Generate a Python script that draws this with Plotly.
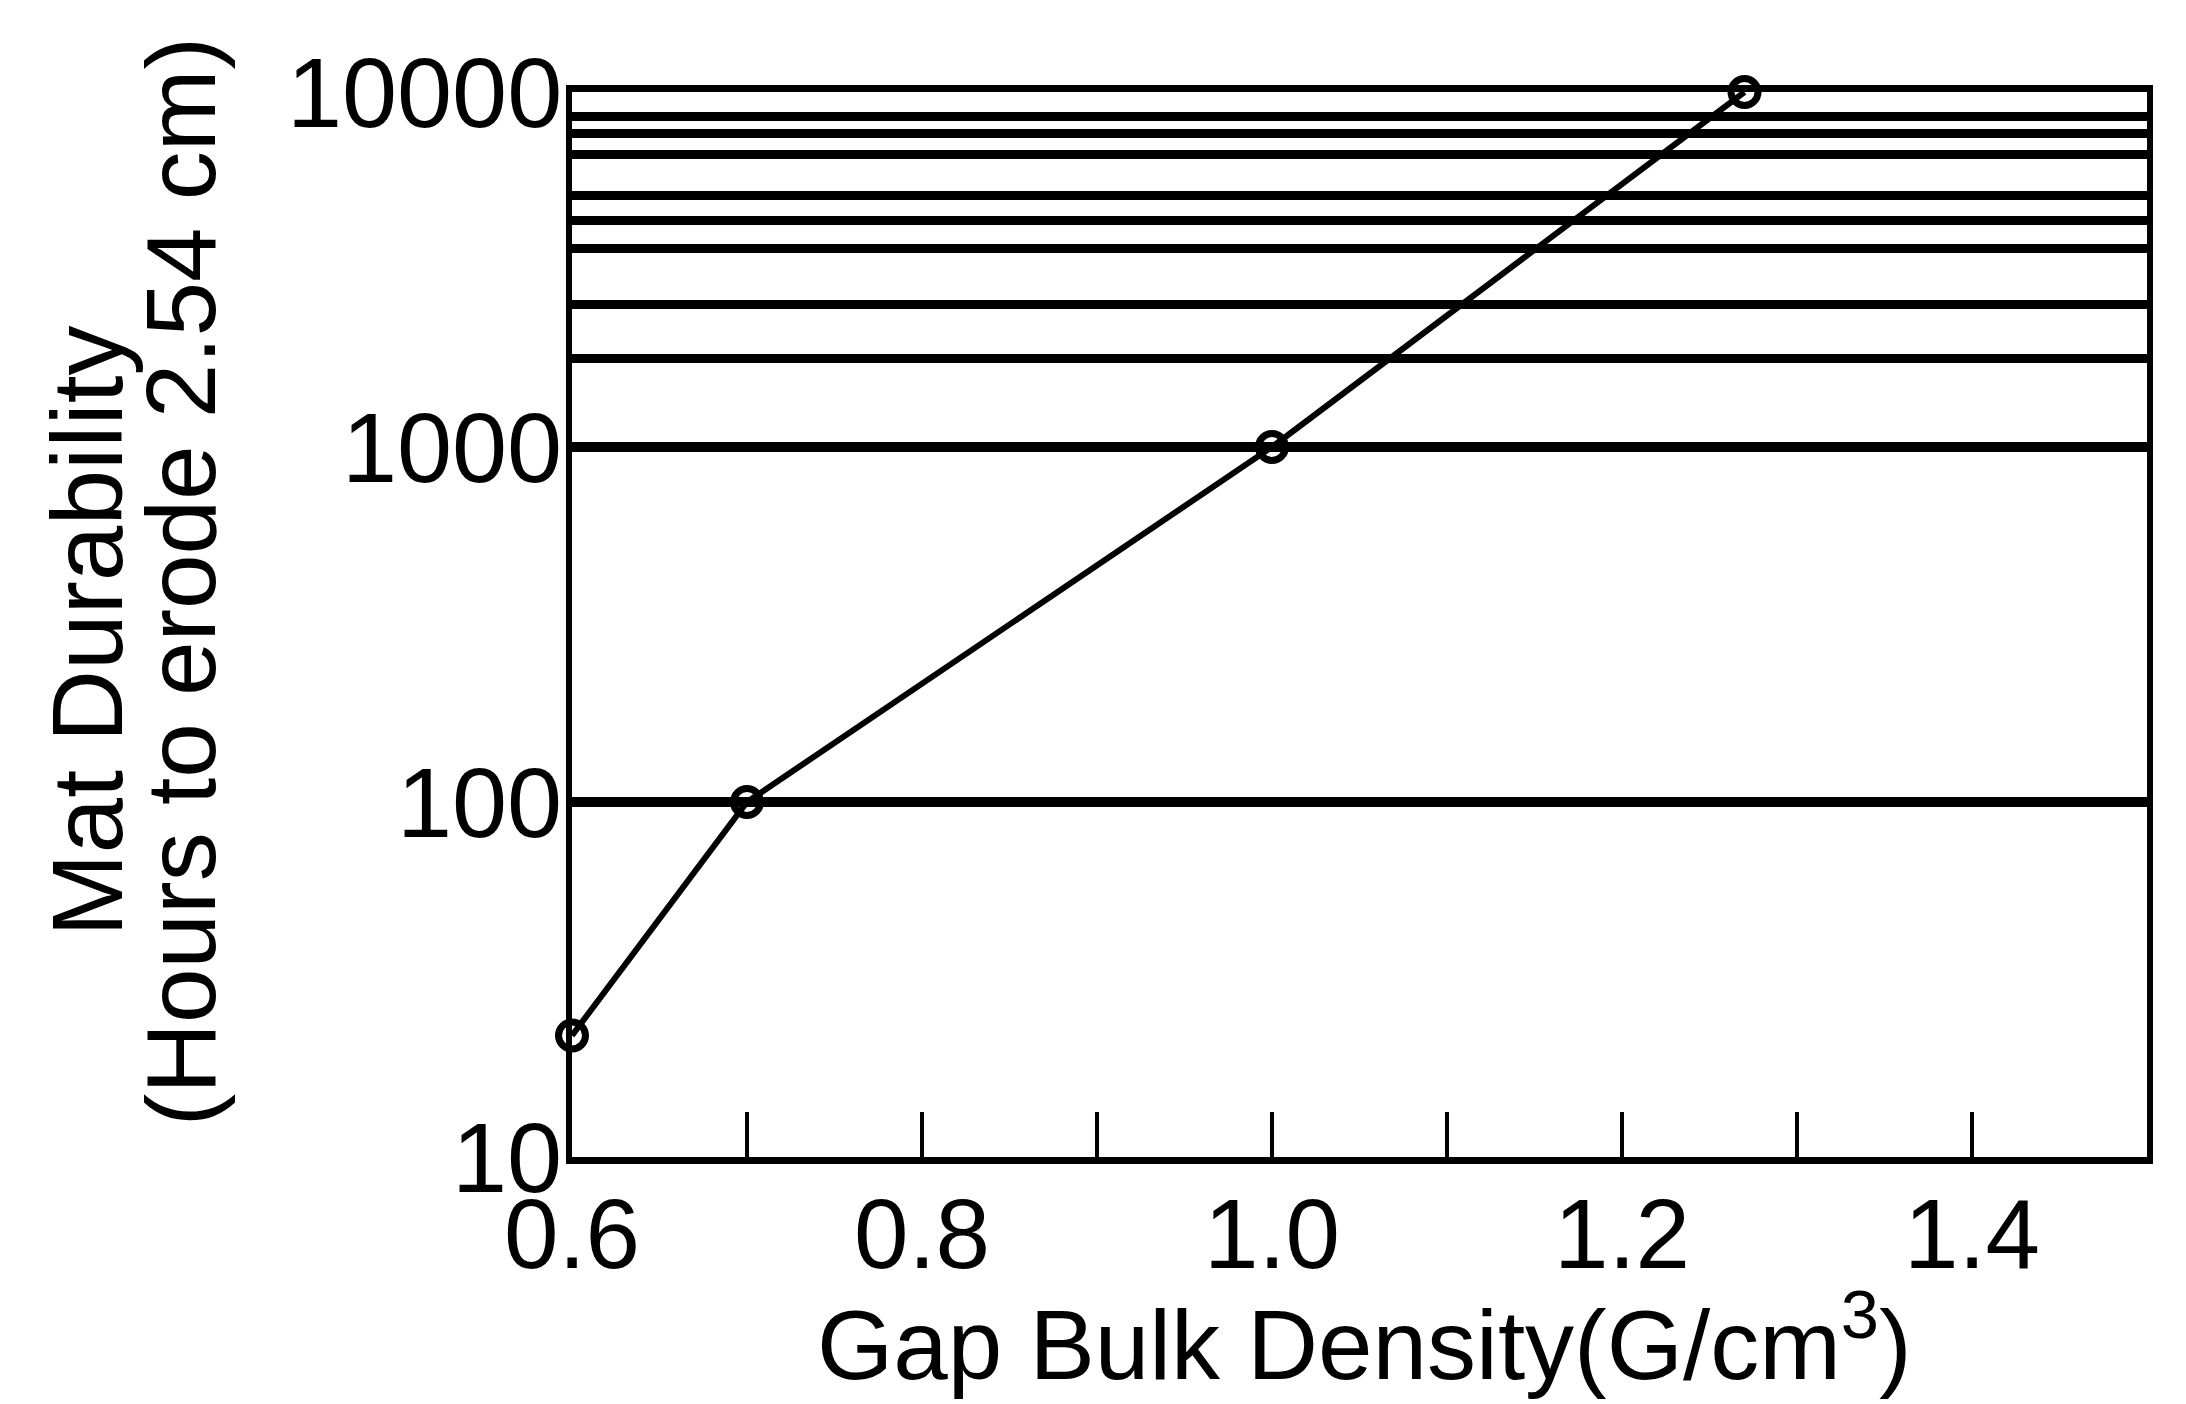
import plotly.graph_objects as go

# Data
density = [0.6, 0.7, 1.0, 1.27]
durability = [22, 100, 1000, 10000]

x_tick_vals = [0.6, 0.8, 1.0, 1.2, 1.4]
x_tick_text = ["0.6", "0.8", "1.0", "1.2", "1.4"]
y_tick_vals = [10, 100, 1000, 10000]
y_tick_text = ["10", "100", "1000", "10000"]
# horizontal rules between 1000 and 10000 as drawn in the reference
y_minor_grid = [1780, 2520, 3630, 4350, 5100, 6680, 7640, 8520]

x_title = "Gap Bulk Density(G/cm<sup>3</sup>)"
y_title_1 = "Mat Durability"
y_title_2 = "(Hours to erode 2.54 cm)"

FONT = "Liberation Sans, Arial, sans-serif"

fig = go.Figure()
fig.add_trace(go.Scatter(
    x=density, y=durability,
    mode="lines+markers",
    line=dict(color="black", width=6),
    marker=dict(symbol="circle-open", size=27, color="black",
                line=dict(color="black", width=7)),
    cliponaxis=False,
    showlegend=False,
))

fig.update_layout(
    width=2186, height=1404,
    margin=dict(l=572, r=39, t=92, b=247),
    paper_bgcolor="white", plot_bgcolor="white",
    font=dict(family=FONT, color="black"),
    xaxis=dict(
        range=[0.6, 1.5],
        tickmode="array", tickvals=x_tick_vals, ticktext=x_tick_text,
        ticks="inside", ticklen=45, tickwidth=4, tickcolor="black",
        tickfont=dict(size=98, family=FONT, color="black"),
        ticklabelstandoff=-14,
        showgrid=False, zeroline=False,
        showline=True, linecolor="black", linewidth=7, mirror=True,
        minor=dict(dtick=0.1, tick0=0.6, ticks="inside", ticklen=45,
                   tickwidth=4, tickcolor="black", showgrid=False),
    ),
    yaxis=dict(
        type="log", range=[1, 4],
        tickmode="array", tickvals=y_tick_vals, ticktext=y_tick_text,
        ticks="", tickfont=dict(size=99, family=FONT, color="black"),
        ticklabelstandoff=-16,
        showgrid=True, gridcolor="black", gridwidth=10,
        zeroline=False,
        showline=True, linecolor="black", linewidth=6, mirror=True,
        minor=dict(tickmode="array", tickvals=y_minor_grid, ticks="",
                   showgrid=True, gridcolor="black", gridwidth=9),
    ),
)

fig.add_annotation(text=y_title_1, xref="paper", yref="paper",
                   x=-0.308, y=0.494, xanchor="center", yanchor="middle",
                   textangle=-90, showarrow=False,
                   font=dict(size=100, family=FONT, color="black"))
fig.add_annotation(text=y_title_2, xref="paper", yref="paper",
                   x=-0.248, y=0.540, xanchor="center", yanchor="middle",
                   textangle=-90, showarrow=False,
                   font=dict(size=98, family=FONT, color="black"))
fig.add_annotation(text=x_title, xref="paper", yref="paper",
                   x=0.503, y=-0.170, xanchor="center", yanchor="middle",
                   showarrow=False,
                   font=dict(size=98, family=FONT, color="black"))

fig.write_html("out.html")
